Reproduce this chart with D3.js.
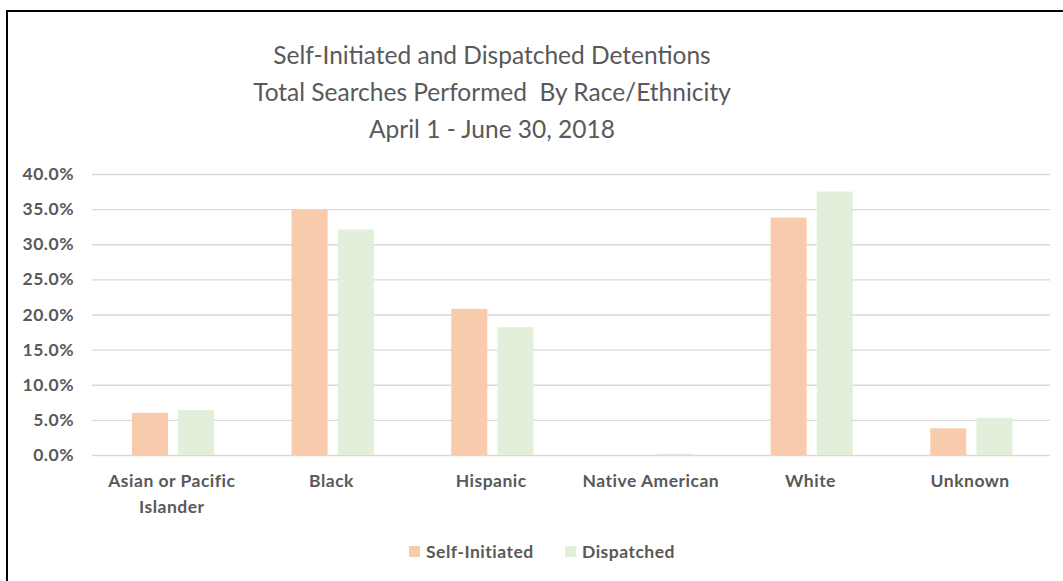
<!DOCTYPE html>
<html>
<head>
<meta charset="utf-8">
<script src="https://cdn.jsdelivr.net/npm/d3@7"></script>
<style>
    body { margin: 0; background: #fff; }
    svg { display: block; }
    .tick text { font-family: Lato, sans-serif; font-weight: bold; fill: #595959; letter-spacing: 0.5px; }
    .title { font-family: Lato, sans-serif; font-weight: 400; fill: #595959; }
    .legend text { font-family: Lato, sans-serif; font-weight: bold; fill: #595959; letter-spacing: 0.5px; }
</style>
</head>
<body>
<div id="vis"></div>
<script>
var categories = ['Asian or Pacific Islander', 'Black', 'Hispanic', 'Native American', 'White', 'Unknown'];
var seriesNames = ['Self-Initiated', 'Dispatched'];
var selfInitiated = [6.0, 35.0, 20.8, 0.0, 33.8, 3.8];
var dispatched = [6.4, 32.1, 18.2, 0.2, 37.5, 5.3];
var yTicks = [0, 5, 10, 15, 20, 25, 30, 35, 40];
var titleLines = ['Self-Initiated and Dispatched Detentions',
                  'Total Searches Performed  By Race/Ethnicity',
                  'April 1 - June 30, 2018'];

var colors = {'Self-Initiated': '#f8cbad', 'Dispatched': '#e2efda'};

var width = 1063,
    height = 581;

var margin = {
    left:   92,
    right:  13,
    top:    174,
    bottom: 126
};

var drawWidth = width - margin.left - margin.right,
    drawHeight = height - margin.top - margin.bottom;

var svg = d3.select('#vis')
            .append('svg')
            .attr('width', width)
            .attr('height', height);

// frame lines (top and left only, as in the picture)
svg.append('line')
   .attr('x1', 6).attr('x2', width).attr('y1', 11).attr('y2', 11)
   .attr('stroke', '#000').attr('stroke-width', 2);
svg.append('line')
   .attr('x1', 7).attr('x2', 7).attr('y1', 10).attr('y2', height)
   .attr('stroke', '#000').attr('stroke-width', 2);

// title
svg.append('g')
   .selectAll('text')
   .data(titleLines)
   .enter()
   .append('text')
   .attr('class', 'title')
   .attr('x', 492)
   .attr('y', (d, i) => 64 + i * 37)
   .attr('text-anchor', 'middle')
   .style('font-size', '24.5px')
   .style('white-space', 'pre')
   .text(d => d);

var g = svg.append('g')
           .attr('transform', `translate(${margin.left}, ${margin.top})`);

var xScale = d3.scaleBand()
               .domain(categories)
               .range([0, drawWidth]);

var xInner = d3.scaleBand()
               .domain(seriesNames)
               .range([xScale.bandwidth() * 0.25, xScale.bandwidth() * 0.765])
               .paddingInner(0.22);

var yScale = d3.scaleLinear()
               .domain([0, 40])
               .range([drawHeight, 0]);

// gridlines + y labels
var yAxis = d3.axisLeft(yScale)
              .tickValues(yTicks)
              .tickSize(-drawWidth)
              .tickPadding(18)
              .tickFormat(d => d.toFixed(1) + '%');

var yAxisG = g.append('g').call(yAxis);
yAxisG.select('.domain').remove();
yAxisG.selectAll('.tick line').attr('stroke', '#d9d9d9').attr('stroke-width', 1.3);
yAxisG.selectAll('.tick text').style('font-size', '17.5px');

// bars
var rows = categories.map((c, i) => ({
    category: c,
    values: [
        {series: 'Self-Initiated', value: selfInitiated[i]},
        {series: 'Dispatched', value: dispatched[i]}
    ]
}));

var groups = g.selectAll('.group')
              .data(rows)
              .enter()
              .append('g')
              .attr('class', 'group')
              .attr('transform', d => `translate(${xScale(d.category)}, 0)`);

groups.selectAll('rect')
      .data(d => d.values)
      .enter()
      .append('rect')
      .attr('x', d => xInner(d.series))
      .attr('width', xInner.bandwidth())
      .attr('y', d => yScale(d.value))
      .attr('height', d => drawHeight - yScale(d.value))
      .attr('fill', d => colors[d.series]);

// x labels
var xAxis = d3.axisBottom(xScale).tickSize(0).tickPadding(20);
var xAxisG = g.append('g')
              .attr('transform', `translate(0, ${drawHeight})`)
              .call(xAxis);
xAxisG.select('.domain').remove();
xAxisG.selectAll('.tick text')
      .style('font-size', '17.5px')
      .call(wrap, 145);

function wrap(texts, maxWidth) {
    texts.each(function() {
        var text = d3.select(this),
            words = text.text().split(' '),
            y = text.attr('y'),
            dy = parseFloat(text.attr('dy')),
            lineNo = 0,
            line = [],
            tspan = text.text(null).append('tspan').attr('x', 0).attr('y', y).attr('dy', dy + 'em');
        words.forEach(function(w) {
            line.push(w);
            tspan.text(line.join(' '));
            if (tspan.node().getComputedTextLength() > maxWidth && line.length > 1) {
                line.pop();
                tspan.text(line.join(' '));
                line = [w];
                lineNo++;
                tspan = text.append('tspan')
                            .attr('x', 0).attr('y', y)
                            .attr('dy', (lineNo * 1.45 + dy) + 'em')
                            .text(w);
            }
        });
    });
}

// legend
var legendX = [409, 565];
var legend = svg.append('g')
                .attr('class', 'legend')
                .selectAll('g')
                .data(seriesNames)
                .enter()
                .append('g')
                .attr('transform', (d, i) => `translate(${legendX[i]}, 546)`);

legend.append('rect')
      .attr('width', 11)
      .attr('height', 11)
      .attr('fill', d => colors[d]);

legend.append('text')
      .attr('x', 17)
      .attr('y', 11.5)
      .style('font-size', '17.5px')
      .text(d => d);
</script>
</body>
</html>
